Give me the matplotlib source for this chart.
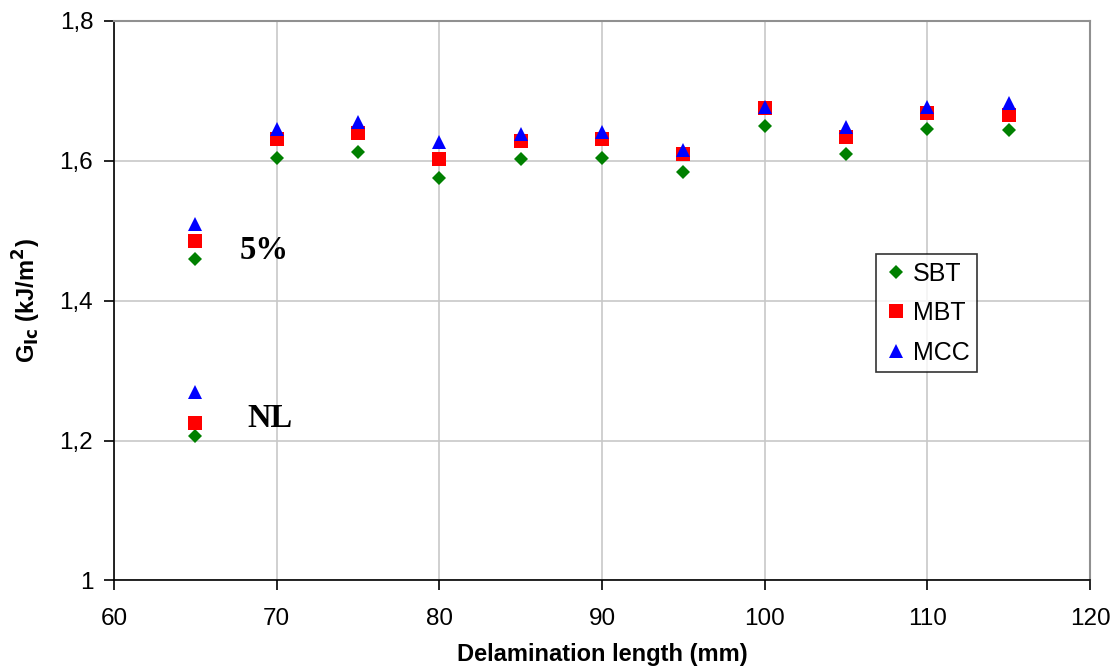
import numpy as np
import matplotlib
matplotlib.use("Agg")
import matplotlib.pyplot as plt
from matplotlib.ticker import FuncFormatter

# delamination length (mm)
length = [65, 70, 75, 80, 85, 90, 95, 100, 105, 110, 115]
# G_Ic values, first point is the 5% value at 65 mm
sbt = [1.459, 1.604, 1.612, 1.575, 1.602, 1.604, 1.584, 1.649, 1.609, 1.645, 1.644]
mbt = [1.485, 1.631, 1.640, 1.602, 1.628, 1.631, 1.609, 1.675, 1.634, 1.668, 1.665]
mcc = [1.510, 1.645, 1.655, 1.627, 1.638, 1.641, 1.615, 1.677, 1.648, 1.677, 1.683]
# non-linear (NL) values at 65 mm
nl_x = [65]
nl_sbt = [1.206]
nl_mbt = [1.225]
nl_mcc = [1.270]

plt.rcParams['font.family'] = ['Liberation Sans', 'DejaVu Sans']

fig = plt.figure(figsize=(11.18, 6.68), dpi=100)
ax = fig.add_axes([0.102, 0.131, 0.873, 0.838])

green, red, blue = "#008000", "#ff0000", "#0000ff"
ax.plot(length, sbt, "D", color=green, ms=7, mew=0, label="SBT", zorder=3)
ax.plot(length, mbt, "s", color=red, ms=10, mew=0, label="MBT", zorder=3)
ax.plot(length, mcc, "^", color=blue, ms=10, mew=0, label="MCC", zorder=4)
ax.plot(nl_x, nl_sbt, "D", color=green, ms=7, mew=0, zorder=3)
ax.plot(nl_x, nl_mbt, "s", color=red, ms=10, mew=0, zorder=3)
ax.plot(nl_x, nl_mcc, "^", color=blue, ms=10, mew=0, zorder=4)

ax.text(69.2, 1.471, "5%", family="Liberation Serif", fontweight="bold",
        fontsize=23.5, ha="center", va="center")
ax.text(69.6, 1.231, "NL", family="Liberation Serif", fontweight="bold",
        fontsize=23.5, ha="center", va="center")

ax.set_xlim(60, 120)
ax.set_ylim(1, 1.8)
ax.set_xticks(np.arange(60, 121, 10))
ax.set_yticks([1, 1.2, 1.4, 1.6, 1.8])
ax.yaxis.set_major_formatter(FuncFormatter(
    lambda v, p: "1" if abs(v - 1) < 1e-9 else ("%.1f" % v).replace(".", ",")))
ax.tick_params(labelsize=17.5, length=7, width=1.2, direction="out", color="black")
ax.tick_params(axis="x", pad=13)
ax.tick_params(axis="y", pad=8)
ax.grid(True, color="#c8c8c8", lw=1.2)
ax.set_axisbelow(True)
for s in ["top", "right"]:
    ax.spines[s].set_color("#909090")
    ax.spines[s].set_linewidth(1.5)
for s in ["left", "bottom"]:
    ax.spines[s].set_color("black")
    ax.spines[s].set_linewidth(1.2)

ax.set_xlabel("Delamination length (mm)", fontsize=17, fontweight="bold", va="center")
ax.xaxis.set_label_coords(0.5, -0.132)
ax.set_ylabel("G$_{\\mathbf{Ic}}$ (kJ/m$^{\\mathbf{2}}$)", fontsize=17, fontweight="bold", labelpad=12)

leg = ax.legend(loc="upper left", bbox_to_anchor=(0.781, 0.583), fontsize=18,
                frameon=True, fancybox=False, edgecolor="black", borderpad=0.3,
                borderaxespad=0, handletextpad=0.15, handlelength=1.0, labelspacing=0.62)
leg.get_frame().set_linewidth(1.2)

fig.savefig("out.png", dpi=100)
